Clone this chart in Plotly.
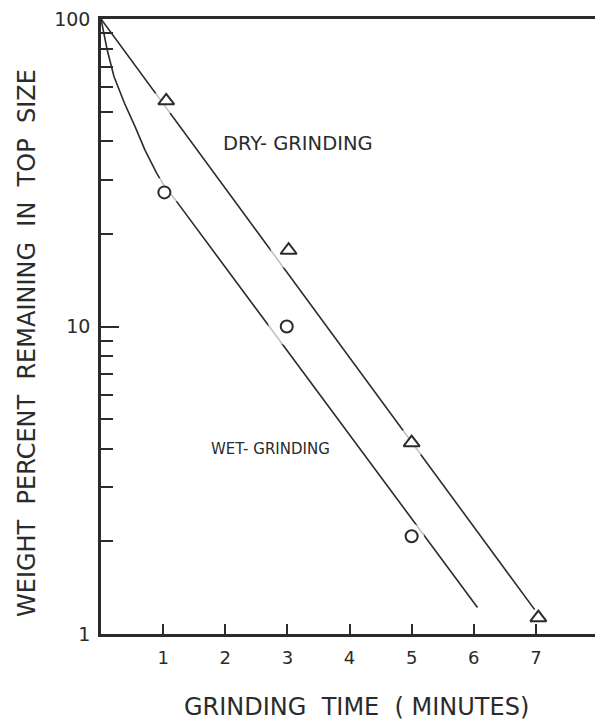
import plotly.graph_objects as go

# ---- data ----
dry_t = [1.05, 3.02, 5.0, 7.04]
dry_pct = [54.2, 17.7, 4.19, 1.13]
wet_t = [1.02, 2.99, 5.0]
wet_pct = [27.3, 10.0, 2.08]

dry_fit_t = [0, 6.98]
dry_fit_pct = [100, 1.2]
wet_fit_t = [0, 0.10, 0.21, 0.38, 0.55, 0.71, 0.90, 1.03, 1.18, 6.06]
wet_fit_pct = [100, 79.3, 64.9, 53.1, 44.6, 37.4, 31.4, 28.4, 26.1, 1.22]

x_tick_vals = [1, 2, 3, 4, 5, 6, 7]
x_tick_text = ["1", "2", "3", "4", "5", "6", "7"]
y_tick_vals = [1, 10, 100]
y_tick_text = ["1", "10", "100"]
y_minor_vals = [2, 3, 4, 5, 6, 7, 8, 9, 20, 30, 40, 50, 60, 70, 80, 90]

# ---- style ----
INK = "#2b2b2b"
FONT = "DejaVu Sans"
NB = "\u00a0"
dry_gap = [26, 36, 30, 0]
wet_gap = [30, 37, 25]

fig = go.Figure()
fig.add_trace(go.Scatter(x=dry_fit_t, y=dry_fit_pct, mode="lines",
                         line=dict(color=INK, width=1.6), hoverinfo="skip"))
fig.add_trace(go.Scatter(x=wet_fit_t, y=wet_fit_pct, mode="lines",
                         line=dict(color=INK, width=1.6), hoverinfo="skip"))
# white gaps around the markers
fig.add_trace(go.Scatter(x=dry_t, y=dry_pct, mode="markers",
                         marker=dict(symbol="circle", size=dry_gap, color="white",
                                     line=dict(width=0)), hoverinfo="skip"))
fig.add_trace(go.Scatter(x=wet_t, y=wet_pct, mode="markers",
                         marker=dict(symbol="circle", size=wet_gap, color="white",
                                     line=dict(width=0)), hoverinfo="skip"))
# markers
fig.add_trace(go.Scatter(x=dry_t, y=dry_pct, mode="markers", name="Dry-grinding",
                         marker=dict(symbol="triangle-up", size=14, color="white",
                                     line=dict(color=INK, width=2))))
fig.add_trace(go.Scatter(x=wet_t, y=wet_pct, mode="markers", name="Wet-grinding",
                         marker=dict(symbol="circle", size=12, color="white",
                                     line=dict(color=INK, width=2))))

# the page body adds an 8 px offset, so the figure is laid out 8 px up/left
fig.update_layout(
    width=595, height=713,
    margin=dict(l=93, r=5, t=11, b=87),
    paper_bgcolor="white", plot_bgcolor="white",
    showlegend=False,
    font=dict(family=FONT, color=INK),
    xaxis=dict(range=[0, 8], tickmode="array", tickvals=x_tick_vals, ticktext=x_tick_text,
               automargin=False,
               ticks="inside", ticklen=10, tickwidth=1.5, tickcolor=INK,
               showline=True, linewidth=2.5, linecolor=INK, mirror=True,
               showgrid=False, zeroline=False,
               tickfont=dict(family=FONT, size=18, color=INK), ticklabelstandoff=6),
    yaxis=dict(type="log", range=[0, 2], tickmode="array", tickvals=y_tick_vals,
               ticktext=y_tick_text, ticklabeloverflow="allow", automargin=False,
               ticks="inside", ticklen=18, tickwidth=1.5, tickcolor=INK,
               minor=dict(tickmode="array", tickvals=y_minor_vals, ticks="inside",
                          ticklen=12, tickwidth=1.5, tickcolor=INK, showgrid=False),
               showline=True, linewidth=2.5, linecolor=INK, mirror=True,
               showgrid=False, zeroline=False,
               tickfont=dict(family=FONT, size=19, color=INK), ticklabelstandoff=4),
)

PW, PH, PL, PB = 497, 615, 101, 634  # plot box in screen pixels
fig.add_annotation(text=(NB * 2).join(["WEIGHT", "PERCENT", "REMAINING", "IN", "TOP", "SIZE"]),
                   xref="paper", yref="paper",
                   x=(27 - PL) / PW, y=(PB - 343) / PH, textangle=-90, showarrow=False,
                   xanchor="center", yanchor="middle",
                   font=dict(family=FONT, size=24, color=INK))
fig.add_annotation(text="GRINDING" + NB * 2 + "TIME" + NB * 2 + "(" + NB + "MINUTES)",
                   xref="paper", yref="paper",
                   x=(356 - PL) / PW, y=-(707 - PB) / PH, showarrow=False,
                   xanchor="center", yanchor="middle",
                   font=dict(family=FONT, size=24, color=INK))
fig.add_annotation(text="DRY-" + NB + "GRINDING", xref="paper", yref="paper",
                   x=(298 - PL) / PW, y=(PB - 143) / PH, showarrow=False,
                   xanchor="center", yanchor="middle",
                   font=dict(family=FONT, size=19.5, color=INK))
fig.add_annotation(text="WET-" + NB + "GRINDING", xref="paper", yref="paper",
                   x=(270 - PL) / PW, y=(PB - 449) / PH, showarrow=False,
                   xanchor="center", yanchor="middle",
                   font=dict(family=FONT, size=15, color=INK))

fig.write_html("out.html")
